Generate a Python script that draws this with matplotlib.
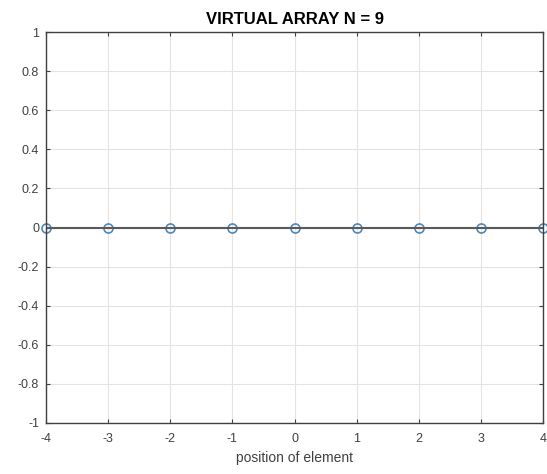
import numpy as np
import matplotlib
matplotlib.use('Agg')
import matplotlib.pyplot as plt

plt.rcParams['font.family'] = ['Liberation Sans', 'DejaVu Sans']
plt.rcParams['axes.unicode_minus'] = False

positions = [-4, -3, -2, -1, 0, 1, 2, 3, 4]
values = [0, 0, 0, 0, 0, 0, 0, 0, 0]
x_ticks = [-4, -3, -2, -1, 0, 1, 2, 3, 4]
y_ticks = [-1, -0.8, -0.6, -0.4, -0.2, 0, 0.2, 0.4, 0.6, 0.8, 1]
y_labels = ['-1', '-0.8', '-0.6', '-0.4', '-0.2', '0', '0.2', '0.4', '0.6', '0.8', '1']

fig = plt.figure(figsize=(5.47, 4.74), dpi=100)
ax = fig.add_axes([0.084, 0.108, 0.909, 0.824])

markerline, stemlines, baseline = ax.stem(positions, values)
plt.setp(markerline, marker='o', markersize=6.5, markerfacecolor='none',
         markeredgecolor='#4f88b8', markeredgewidth=1.2)
plt.setp(stemlines, color='#4f88b8', linewidth=1.0)
plt.setp(baseline, color='#5a5a5a', linewidth=1.5)
baseline.set_xdata([-4, 4])
markerline.set_clip_on(False)

ax.set_xlim(-4, 4)
ax.set_ylim(-1, 1)
ax.set_xticks(x_ticks)
ax.set_yticks(y_ticks)
ax.set_yticklabels(y_labels)
ax.grid(True, color='#e3e3e3', linewidth=0.8)
ax.set_axisbelow(True)
for s in ax.spines.values():
    s.set_color('#404040')
    s.set_linewidth(1.0)
ax.tick_params(direction='in', length=3, colors='#404040', labelsize=9, top=True, right=True,
               labeltop=False, labelright=False)
ax.tick_params(axis='x', pad=7)
ax.tick_params(axis='y', pad=5)
ax.set_xlabel('position of element', fontsize=10, color='#404040', labelpad=5)
ax.set_title('VIRTUAL ARRAY N = 9', fontsize=12, fontweight='bold', pad=6)

fig.savefig('out.png', dpi=100)
